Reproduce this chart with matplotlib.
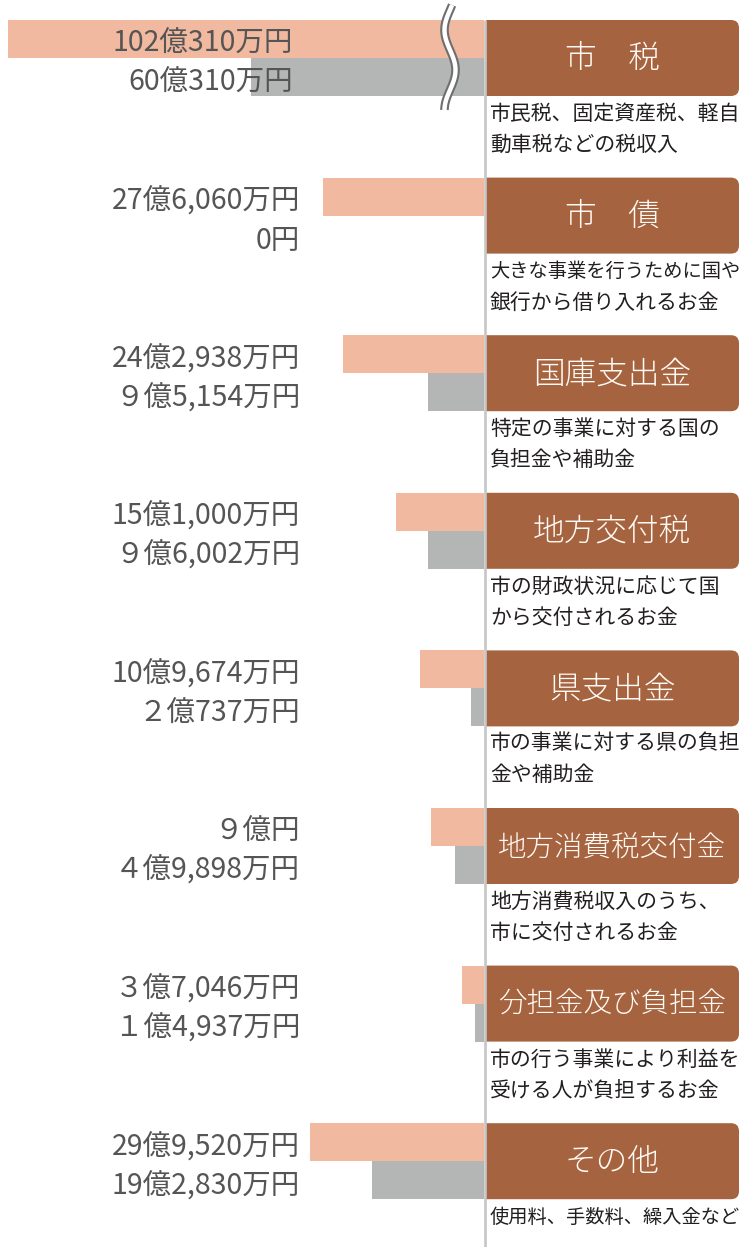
import matplotlib
matplotlib.use("Agg")
import matplotlib.pyplot as plt
import matplotlib.patches as patches
import numpy as np


OUT_NAME = "out.png"

# 歳入の内訳（単位：億円）
ITEMS = ["市　税", "市　債", "国庫支出金", "地方交付税", "県支出金",
         "地方消費税交付金", "分担金及び負担金", "その他"]
CURRENT = [102.0310, 27.6060, 24.2938, 15.1000, 10.9674, 9.0000, 3.7046, 29.9520]
PREVIOUS = [60.0310, 0.0, 9.5154, 9.6002, 2.0737, 4.9898, 1.4937, 19.2830]
CURRENT_LABELS = ["102億310万円", "27億6,060万円", "24億2,938万円", "15億1,000万円",
                  "10億9,674万円", "９億円", "３億7,046万円", "29億9,520万円"]
PREVIOUS_LABELS = ["60億310万円", "0円", "９億5,154万円", "９億6,002万円",
                   "２億737万円", "４億9,898万円", "１億4,937万円", "19億2,830万円"]
DESCRIPTIONS = [
    ["市民税、固定資産税、軽自", "動車税などの税収入"],
    ["大きな事業を行うために国や", "銀行から借り入れるお金"],
    ["特定の事業に対する国の", "負担金や補助金"],
    ["市の財政状況に応じて国", "から交付されるお金"],
    ["市の事業に対する県の負担", "金や補助金"],
    ["地方消費税収入のうち、", "市に交付されるお金"],
    ["市の行う事業により利益を", "受ける人が負担するお金"],
    ["使用料、手数料、繰入金など"],
]
BREAK_CUT = 20.0  # 市税の棒は途中を省略して表示

W, H = 740, 1247
ZERO_X = 483.5
PX_PER_UNIT = 5.8
ROW_TOP0 = 20.0
ROW_STEP = 157.6
BAR_H = 38.0
BOX_LEFT, BOX_RIGHT = 486.0, 740.0
LABEL_X = 300.0

PINK = "#F0B9A0"
GRAY = "#B4B6B5"
BROWN = "#A5633F"
LINE_GRAY = "#C6C6C6"
LABEL_COLOR = "#555555"
TEXT_COLOR = "#231F20"

LABEL_FONT = ["Noto Sans CJK JP", "DejaVu Sans"]
JP_FONT = ["Noto Sans CJK JP", "DejaVu Sans"]


def row_top(i):
    return ROW_TOP0 + ROW_STEP * i


def draw_bars(ax):
    n = len(ITEMS)
    tops = np.array([row_top(i) for i in range(n)])
    cur = np.array(CURRENT, dtype=float)
    prev = np.array(PREVIOUS, dtype=float)
    cur[0] -= BREAK_CUT
    prev[0] -= BREAK_CUT
    ax.barh(tops + BAR_H / 2, cur, height=BAR_H, color=PINK, linewidth=0, zorder=2)
    ax.barh(tops + BAR_H * 1.5, prev, height=BAR_H, color=GRAY, linewidth=0, zorder=2)
    ax.set_xlim(ZERO_X / PX_PER_UNIT, 0)
    ax.set_ylim(H, 0)
    ax.axis("off")


def draw_break(ax):
    y = np.linspace(5, 110, 120)
    x = 450 - 5.5 * np.sin(2 * np.pi * (y - 10) / 80)
    ax.plot(x, y, color="#6E6E6E", lw=6.2, solid_capstyle="butt", zorder=6)
    ax.plot(x, y, color="white", lw=3.2, solid_capstyle="butt", zorder=7)


def draw_panels(ax):
    ax.vlines(ZERO_X + 1.2, ROW_TOP0, H, color=LINE_GRAY, lw=1.9, zorder=4)
    for i, name in enumerate(ITEMS):
        top = row_top(i)
        box = patches.FancyBboxPatch(
            (BOX_LEFT - 20, top), BOX_RIGHT - BOX_LEFT + 20 - 1, BAR_H * 2,
            boxstyle="round,pad=0,rounding_size=8",
            facecolor=BROWN, edgecolor="none", zorder=3,
        )
        clip = patches.Rectangle((BOX_LEFT, top - 2), BOX_RIGHT - BOX_LEFT, BAR_H * 2 + 4,
                                 transform=ax.transData)
        ax.add_patch(box)
        box.set_clip_path(clip)

        n_chars = len(name)
        size = min(22.8, 228 / (n_chars * 1.389))
        ax.text((BOX_LEFT + BOX_RIGHT) / 2 - 1, top + BAR_H + 1, name, ha="center", va="center",
                fontsize=size, color="#FFFAF5", family=JP_FONT, weight="light", zorder=5)

        for k, line in enumerate(DESCRIPTIONS[i]):
            dsize = min(15.0, 250 / (len(line) * 1.389))
            ax.text(490, top + BAR_H * 2 + 18 + 31 * k, line, ha="left", va="center",
                    fontsize=dsize, color=TEXT_COLOR, family=JP_FONT, zorder=5)

        lx = LABEL_X - 7 if i == 0 else LABEL_X
        ax.text(lx, top + BAR_H / 2 + 5, CURRENT_LABELS[i], ha="right", va="center",
                fontsize=20.5, color=LABEL_COLOR, family=LABEL_FONT, zorder=8)
        ax.text(lx, top + BAR_H * 1.5 + 6, PREVIOUS_LABELS[i], ha="right", va="center",
                fontsize=20.5, color=LABEL_COLOR, family=LABEL_FONT, zorder=8)


def main():
    fig = plt.figure(figsize=(W / 100, H / 100), dpi=100)
    ax_bar = fig.add_axes([0, 0, ZERO_X / W, 1])
    draw_bars(ax_bar)

    ax = fig.add_axes([0, 0, 1, 1], facecolor="none")
    ax.set_xlim(0, W)
    ax.set_ylim(H, 0)
    ax.axis("off")
    draw_break(ax)
    draw_panels(ax)

    fig.savefig(OUT_NAME, dpi=100)


if __name__ == "__main__":
    main()
